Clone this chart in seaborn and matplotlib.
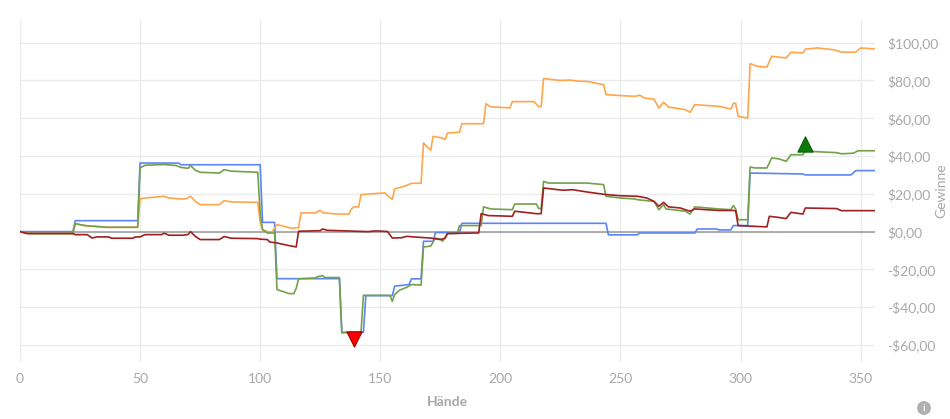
import matplotlib
matplotlib.use("Agg")
import matplotlib.pyplot as plt
import matplotlib.ticker as mticker
import seaborn as sns
import pandas as pd

# hand numbers and winnings ($), one pair of lists per line
blue_x = [0, 22, 23, 49, 50, 66, 67, 100, 101, 106, 107, 133, 134, 143, 144, 155, 156, 162, 163, 167, 168,
          172, 173, 183, 184, 244, 245, 257, 258, 281, 282, 290, 291, 296, 297, 303, 304, 326, 327, 346, 348, 356]
blue_y = [0, 0, 5.8, 5.8, 36.3, 36.3, 35.4, 35.4, 4.9, 4.9, -24.9, -24.9, -53.3, -53.3, -33.9, -33.9, -28.9, -28,
          -25, -25, -5.1, -5.1, -0.5, -0.5, 4.4, 4.4, -1.7, -1.7, -0.7, -0.7, 1.4, 1.4, 0.9, 0.9, 3.2, 3.2, 31,
          30.5, 30, 30, 32.3, 32.3]

green_x = [0, 3, 22, 23, 27, 30, 36, 49, 50, 52, 60, 65, 67, 70, 71, 73, 75, 83, 85, 88, 99, 100, 101, 103, 106,
           107, 110, 112, 114, 115, 116, 123, 124, 126, 127, 133, 134, 142, 143, 154, 155, 156, 158, 161, 163, 167,
           168, 171, 173, 175, 176, 178, 182, 183, 192, 193, 196, 205, 206, 215, 216, 217, 218, 220, 236, 243, 244,
           250, 256, 257, 264, 266, 268, 269, 277, 279, 281, 291, 296, 297, 298, 299, 303, 304, 306, 311, 313, 316,
           319, 321, 326, 327, 330, 340, 342, 347, 349, 356]
green_y = [0, -1, -1, 4.2, 3.2, 2.9, 2.3, 2.3, 33.7, 35.1, 35.5, 35, 34, 33.5, 35, 32.5, 31.4, 31, 32.8, 32, 31.4,
           10, 1, -0.7, -0.7, -30.7, -31.9, -32.8, -32.8, -30, -25, -24.5, -23.8, -23.3, -24.3, -24.3, -53.6, -53,
           -33.7, -33.7, -36.9, -33.3, -31, -29.5, -28, -28.3, -8.1, -7.7, -3.4, -4, -5.1, -1, -1, 3.2, 3.2, 13.1,
           12, 11.6, 14.6, 14.6, 12.2, 12.2, 26.6, 25.7, 25.7, 24.9, 18.7, 17.8, 17.3, 16.9, 16, 11.6, 14.3, 12,
           10.8, 9.3, 13.1, 12, 11.6, 13.8, 12, 6.3, 6.3, 34.2, 33.7, 33.7, 39, 38.5, 37.2, 40.7, 40.7, 43, 42.4,
           41.8, 41.2, 41.5, 42.8, 42.8]

orange_x = [0, 3, 22, 23, 27, 30, 36, 49, 50, 52, 60, 62, 67, 69, 71, 73, 75, 83, 85, 88, 99, 100, 101, 103, 104,
            105, 107, 110, 113, 115, 116, 117, 123, 125, 126, 132, 137, 138, 139, 141, 142, 152, 153, 155, 156, 160,
            162, 163, 167, 168, 171, 172, 176, 177, 178, 183, 184, 193, 194, 196, 204, 205, 214, 216, 217, 218, 225,
            229, 232, 237, 240, 243, 244, 250, 256, 258, 260, 264, 266, 268, 270, 277, 279, 281, 291, 296, 297, 298,
            299, 303, 304, 307, 311, 313, 319, 321, 326, 327, 332, 339, 342, 348, 350, 356]
orange_y = [0, -1, -1, 4.2, 3.2, 2.9, 2.3, 2.3, 17.3, 17.8, 18.7, 17.8, 17.3, 17.3, 18.7, 16, 14.3, 14.3, 16.4, 15.7,
            15.5, 5, 1, 0, -0.7, 0, 3.7, 2.8, 1.8, 2, 2, 9.9, 9.9, 11.3, 10, 9.3, 9.3, 12, 13.1, 13.1, 19.6, 20.5,
            19, 17.1, 22.6, 24, 25, 25.6, 25.6, 46.9, 43, 50.4, 49.5, 48.7, 52.2, 52.6, 57.1, 57.1, 67.7, 66, 65.5,
            68.8, 68.8, 66.1, 66.1, 81, 80, 80.2, 79.7, 79.4, 78.5, 77.8, 72.5, 72, 71.6, 72.2, 70.7, 70.1, 65.4,
            68.5, 65.9, 64.6, 63.1, 67.2, 66.3, 64.9, 67.9, 67.9, 61, 60.1, 88.9, 87.5, 87.1, 92.8, 91.9, 94.9,
            94.6, 96.6, 97.2, 96.2, 95, 95, 97.2, 96.7]

red_x = [0, 3, 22, 23, 28, 30, 32, 37, 38, 47, 48, 50, 52, 59, 60, 62, 68, 70, 71, 73, 75, 83, 85, 88, 99, 100, 103,
         104, 107, 108, 112, 115, 116, 125, 126, 128, 145, 148, 153, 155, 159, 161, 166, 171, 175, 177, 178, 191, 192,
         195, 205, 206, 215, 217, 218, 226, 230, 237, 244, 250, 257, 261, 264, 266, 268, 270, 275, 277, 279, 281, 291,
         297, 298, 299, 311, 312, 316, 319, 321, 326, 327, 340, 342, 356]
red_y = [0, -1, -1, -1.6, -1.6, -3.4, -2.8, -2.8, -3.5, -3.5, -2.8, -2.8, -1.6, -1.6, -0.8, -1.9, -1.9, -1.5, 0,
         -2.5, -4.2, -4.2, -2.6, -3.5, -3.7, -4, -4.2, -5.5, -6, -6.3, -7.4, -8.1, 0.2, 0.5, 1.4, 0.7, 0, 0.4, 0.1,
         -3.4, -3.2, -2.5, -3, -3.4, -4.2, -3.5, -1, -0.7, 9.5, 8.5, 8.1, 10.8, 9.5, 9.5, 23.1, 21.9, 22.2, 20.8,
         19.6, 19, 18.7, 17.8, 16, 13.4, 15.5, 13.1, 12.5, 11.6, 10.8, 12, 11.2, 11.2, 11, 3.2, 2.5, 8.1, 7.5, 6.9,
         10.2, 9.3, 12.5, 12.2, 11.1, 11.1]

# best / worst markers
max_hand, max_value = 327, 46.6
min_hand, min_value = 139, -56.8

series = {"Spieler A": (blue_x, blue_y), "Spieler B": (orange_x, orange_y),
          "Spieler C": (green_x, green_y), "Spieler D": (red_x, red_y)}
frames = []
for name, (xs, ys) in series.items():
    frames.append(pd.DataFrame({"Hände": xs, "Gewinne": ys, "Spieler": name}))
df = pd.concat(frames, ignore_index=True)
colors = {"Spieler A": "#5c85f5", "Spieler B": "#ffa64d", "Spieler C": "#73a14a", "Spieler D": "#a02020"}

sns.set_theme(style="white")
plt.rcParams["font.family"] = ["Lato", "DejaVu Sans"]

fig = plt.figure(figsize=(9.5, 4.19), dpi=100)
ax = fig.add_axes([20 / 950, 1 - 362 / 419, 855 / 950, 342 / 419])

ax.axhline(0, color="#a0a0a0", lw=1.2, zorder=1)
sns.lineplot(data=df, x="Hände", y="Gewinne", hue="Spieler", palette=colors, estimator=None,
             sort=False, units="Spieler", linewidth=1.2, legend=False, ax=ax, zorder=3)
ax.scatter([max_hand], [max_value], marker="^", s=120, color="#0a7a0a", edgecolor="#0a5a0a", lw=0.8, zorder=5)
ax.scatter([min_hand], [min_value], marker="v", s=120, color="#ff0000", edgecolor="#a00000", lw=0.8, zorder=5)

ax.set_xlim(0, 356)
ax.set_ylim(-69, 112)
ax.set_xticks(range(0, 351, 50))
ax.set_yticks(range(-60, 101, 20))
ax.yaxis.tick_right()
ax.yaxis.set_label_position("right")
ax.yaxis.set_major_formatter(mticker.FuncFormatter(
    lambda v, p: ("-" if v < 0 else "") + "$" + f"{abs(v):.2f}".replace(".", ",")))
ax.grid(True, color="#ebebeb", lw=1)
for s in ax.spines.values():
    s.set_visible(False)
ax.tick_params(axis="both", colors="#a8a8a8", labelsize=10, length=0, pad=8)
ax.tick_params(axis="y", pad=9)
ax.set_xlabel("Hände", color="#a8a8a8", fontsize=10, fontweight="bold", labelpad=8)
ax.set_ylabel("Gewinne", color="#a8a8a8", fontsize=10)
ax.yaxis.set_label_coords((935 - 20) / 855, 0.5)

# info icon in the corner
fig.text(924 / 950, 1 - 408 / 419, "i", ha="center", va="center", fontsize=7, fontweight="bold", color="white",
         bbox=dict(boxstyle="circle,pad=0.25", fc="#b0b0b0", ec="none"))

fig.savefig("out.png", dpi=100)
